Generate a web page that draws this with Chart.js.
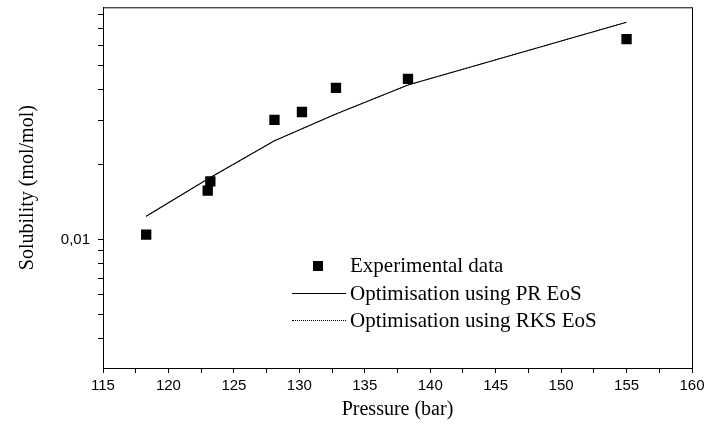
<!DOCTYPE html>
<html>
<head>
<meta charset="utf-8">
<script src="https://cdn.jsdelivr.net/npm/chart.js@4.4.1/dist/chart.umd.min.js"></script>
<style>
    html, body { margin: 0; padding: 0; background: #fff; }
    #wrap { position: relative; width: 705px; height: 430px; }
    #legend {
        position: absolute; left: 290px; top: 252px;
        font-family: "Liberation Serif", "Times New Roman", serif;
        font-size: 21px; color: #000;
    }
    .row { height: 27.5px; line-height: 27.5px; white-space: nowrap; }
    .key { display: inline-block; width: 60px; height: 27.5px; vertical-align: top; position: relative; }
    .key .sq { position: absolute; left: 23px; top: 9px; width: 10px; height: 10px; background: #000; }
    .key .ln { position: absolute; left: 2px; right: 4px; top: 13px; border-top: 1px solid #000; }
    .key .dt { position: absolute; left: 2px; right: 4px; top: 13px; border-top: 1px dotted #000; }
</style>
</head>
<body>
<div id="wrap">
    <canvas id="solChart" width="705" height="430"></canvas>
    <div id="legend"></div>
</div>
<script>
// experimental points
let expPressure = [118.3, 123.0, 123.2, 128.1, 130.2, 132.8, 138.3, 155.0];
let expSolubility = [0.01047, 0.0157, 0.0171, 0.0302, 0.0325, 0.0406, 0.0441, 0.0637];

// model curves
let prPressure = [118.3, 123.1, 128.1, 132.8, 138.3, 155.0];
let prSolubility = [0.0124, 0.0176, 0.0249, 0.0319, 0.0417, 0.0745];
let rksPressure = [118.3, 123.1, 128.1, 132.8, 138.3, 155.0];
let rksSolubility = [0.0124, 0.0176, 0.0249, 0.0319, 0.0417, 0.0745];

let seriesLabels = ['Experimental data', 'Optimisation using PR EoS', 'Optimisation using RKS EoS'];

// axes
let xMin = 115, xMax = 160, xStep = 2.5;
let yMin = 0.00305, yMax = 0.0855;
let yTickValues = [0.004, 0.005, 0.006, 0.007, 0.008, 0.009, 0.01, 0.02, 0.03, 0.04, 0.05, 0.06, 0.07, 0.08];
let yLabelled = {0.01: '0,01'};

function toPoints(xs, ys) {
    return xs.map(function (x, i) { return {x: x, y: ys[i]}; });
}

// box around the plot area
const frame = {
    id: 'frame',
    afterDraw(chart) {
        const a = chart.chartArea, ctx = chart.ctx;
        ctx.save();
        ctx.strokeStyle = '#000';
        ctx.lineWidth = 1;
        ctx.strokeRect(a.left + 0.5, a.top + 0.5, a.right - a.left, a.bottom - a.top);
        ctx.restore();
    }
};

const tickFont = {family: '"Liberation Sans", Arial, sans-serif', size: 15};
const titleFont = {family: '"Liberation Serif", "Times New Roman", serif', size: 20};

var ctx = document.getElementById('solChart').getContext('2d');
var chart = new Chart(ctx, {
    type: 'scatter',
    data: {
        datasets: [{
            label: seriesLabels[0],
            data: toPoints(expPressure, expSolubility),
            pointStyle: 'rect',
            pointRadius: 7.3,
            backgroundColor: '#000',
            borderColor: '#000',
            borderWidth: 0,
            showLine: false
        }, {
            label: seriesLabels[1],
            data: toPoints(prPressure, prSolubility),
            showLine: true,
            borderColor: '#000',
            borderWidth: 1.1,
            pointRadius: 0,
            tension: 0
        }, {
            label: seriesLabels[2],
            data: toPoints(rksPressure, rksSolubility),
            showLine: true,
            borderColor: '#000',
            borderWidth: 1,
            borderDash: [1, 2],
            pointRadius: 0,
            tension: 0
        }]
    },
    options: {
        responsive: false,
        animation: false,
        layout: {padding: {top: 6, right: 13, left: 0, bottom: 0}},
        plugins: {legend: {display: false}, tooltip: {enabled: false}},
        scales: {
            x: {
                type: 'linear',
                min: xMin,
                max: xMax,
                border: {display: true, color: '#000', width: 1},
                grid: {drawOnChartArea: false, drawTicks: true, tickLength: 5, color: '#000'},
                ticks: {
                    stepSize: xStep,
                    autoSkip: false,
                    maxRotation: 0,
                    padding: 4,
                    color: '#000',
                    font: tickFont,
                    callback: function (v) { return v % 5 === 0 ? String(v) : ''; }
                },
                title: {display: true, text: 'Pressure (bar)', color: '#000', font: titleFont, padding: {top: 0, bottom: 8}},
                afterFit: function (scale) {
                    scale.height = 62;
                    scale.paddingLeft = 0;
                    scale.paddingRight = 0;
                }
            },
            y: {
                type: 'logarithmic',
                min: yMin,
                max: yMax,
                border: {display: true, color: '#000', width: 1},
                grid: {drawOnChartArea: false, drawTicks: true, tickLength: 5, color: '#000'},
                ticks: {
                    autoSkip: false,
                    padding: 8,
                    color: '#000',
                    font: tickFont,
                    callback: function (v) { return yLabelled[v] || ''; }
                },
                afterBuildTicks: function (scale) {
                    scale.ticks = yTickValues.map(function (v) { return {value: v}; });
                },
                title: {display: true, text: 'Solubility (mol/mol)', color: '#000', font: titleFont, padding: {top: 16, bottom: 0}},
                afterFit: function (scale) {
                    scale.width = 103;
                    scale.paddingTop = 0;
                    scale.paddingBottom = 0;
                }
            }
        }
    },
    plugins: [frame]
});

// legend inside the plot, built from the dataset labels
let keyHtml = ['<span class="sq"></span>', '<span class="ln"></span>', '<span class="dt"></span>'];
document.getElementById('legend').innerHTML = seriesLabels.map(function (t, i) {
    return '<div class="row"><span class="key">' + keyHtml[i] + '</span>' + t + '</div>';
}).join('');
</script>
</body>
</html>
